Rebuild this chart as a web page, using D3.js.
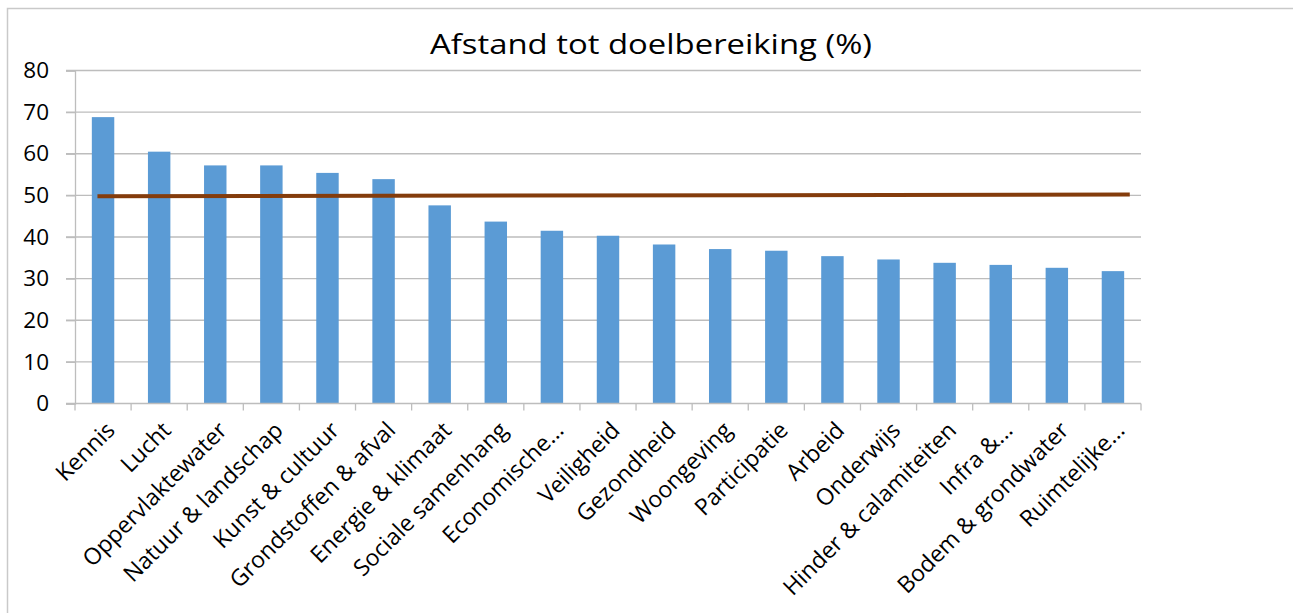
<!DOCTYPE html>
<html>
<head>
<meta charset="utf-8">
<script src="https://cdn.jsdelivr.net/npm/d3@7"></script>
<style>
  html, body { margin: 0; padding: 0; background: #fff; }
  svg { display: block; font-family: "Open Sans", "Liberation Sans", sans-serif; }
</style>
</head>
<body>
<div id="chart"></div>
<script>
// chart data
const categories = ['Kennis','Lucht','Oppervlaktewater','Natuur & landschap','Kunst & cultuur',
  'Grondstoffen & afval','Energie & klimaat','Sociale samenhang','Economische...','Veiligheid',
  'Gezondheid','Woongeving','Participatie','Arbeid','Onderwijs','Hinder & calamiteiten',
  'Infra &...','Bodem & grondwater','Ruimtelijke...'];
const values = [68.8, 60.5, 57.2, 57.2, 55.4, 53.9, 47.6, 43.7, 41.5, 40.3,
  38.2, 37.1, 36.7, 35.4, 34.6, 33.8, 33.3, 32.6, 31.8];
const yTicks = [0, 10, 20, 30, 40, 50, 60, 70, 80];
// hand drawn target line (x in category units, y in %)
const targetPos = [0.4, 18.8];
const targetVal = [49.8, 50.2];
const title = 'Afstand tot doelbereiking (%)';

const W = 1293, H = 613;
const m = {left: 75, right: 1141, top: 70.5, bottom: 403.5};

const svg = d3.select('#chart').append('svg')
  .attr('width', W).attr('height', H);

// outer frame (only top and left edges visible)
svg.append('rect')
  .attr('x', 7.5).attr('y', 8.5)
  .attr('width', W + 20).attr('height', H + 20)
  .attr('fill', 'none').attr('stroke', '#c9c9c9').attr('stroke-width', 1.5);

const x = d3.scaleBand().domain(categories).range([m.left, m.right]).paddingInner(0.6).paddingOuter(0.3);
const xIdx = d3.scaleLinear().domain([0, categories.length]).range([m.left, m.right]);
const y = d3.scaleLinear().domain([0, 80]).range([m.bottom, m.top]);

// gridlines
svg.append('g')
  .selectAll('line').data(yTicks.filter(d => d > 0)).join('line')
  .attr('x1', m.left - 9).attr('x2', m.right)
  .attr('y1', d => y(d)).attr('y2', d => y(d))
  .attr('stroke', '#bdbdbd').attr('stroke-width', 1.3);

// y axis
const yAxis = svg.append('g')
  .attr('transform', `translate(${m.left},0)`)
  .call(d3.axisLeft(y).tickValues(yTicks).tickSize(9).tickPadding(17));
yAxis.select('.domain').attr('stroke', '#bdbdbd').attr('stroke-width', 1.3);
yAxis.selectAll('.tick line').attr('stroke', '#bdbdbd').attr('stroke-width', 1.3);
yAxis.selectAll('.tick text')
  .attr('font-size', 22.5).attr('fill', '#000')
  .attr('font-family', '"Open Sans", sans-serif');

// bars
svg.append('g')
  .selectAll('rect').data(values).join('rect')
  .attr('x', (d, i) => x(categories[i]))
  .attr('width', x.bandwidth())
  .attr('y', d => y(d))
  .attr('height', d => y(0) - y(d))
  .attr('fill', '#5b9bd5');

// x axis
const xAxis = svg.append('g').attr('transform', `translate(0,${m.bottom})`);
xAxis.append('line')
  .attr('x1', m.left - 9).attr('x2', m.right)
  .attr('stroke', '#bdbdbd').attr('stroke-width', 1.3);
xAxis.selectAll('line.tk').data(d3.range(categories.length + 1)).join('line')
  .attr('class', 'tk')
  .attr('x1', d => xIdx(d)).attr('x2', d => xIdx(d))
  .attr('y1', 0).attr('y2', 7)
  .attr('stroke', '#bdbdbd').attr('stroke-width', 1.3);

xAxis.selectAll('text').data(categories).join('text')
  .attr('transform', d => `translate(${x(d) + x.bandwidth() / 2 + 1},${16}) rotate(-45)`)
  .attr('text-anchor', 'end')
  .attr('dy', '0.75em')
  .attr('font-size', 23)
  .attr('fill', '#000')
  .text(d => d);

// target line
const line = d3.line()
  .x((d, i) => xIdx(targetPos[i]))
  .y(d => y(d));
svg.append('path')
  .datum(targetVal)
  .attr('d', line)
  .attr('fill', 'none')
  .attr('stroke', '#843c0c')
  .attr('stroke-width', 4);

// title
svg.append('text')
  .attr('x', 651).attr('y', 54)
  .attr('text-anchor', 'middle')
  .attr('font-size', 27)
  .attr('textLength', 442)
  .attr('lengthAdjust', 'spacingAndGlyphs')
  .attr('fill', '#000')
  .text(title);
</script>
</body>
</html>
